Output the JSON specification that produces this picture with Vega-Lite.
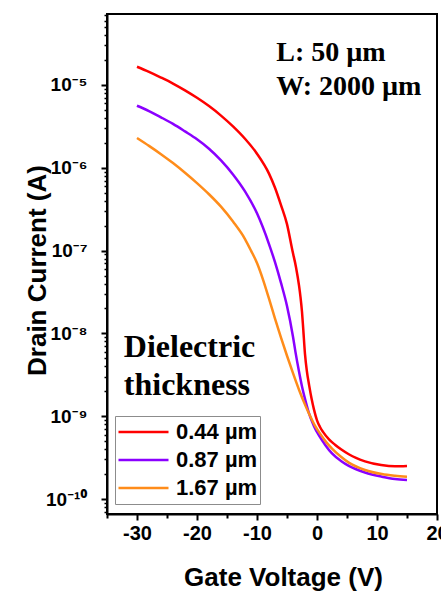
{
  "$schema": "https://vega.github.io/schema/vega-lite/v6.json",
  "width": 330,
  "height": 500,
  "autosize": "none",
  "padding": {"left": 107, "top": 14, "right": 4, "bottom": 79},
  "background": "white",
  "config": {
    "view": {"stroke": "black", "strokeWidth": 2},
    "axis": {
      "domainColor": "black", "domainWidth": 2, "tickColor": "black", "tickWidth": 2,
      "labelFont": "Liberation Sans, Noto Sans, DejaVu Sans", "labelFontWeight": "bold", "labelFontSize": 19, "labelColor": "black",
      "titleFont": "Liberation Sans", "titleFontWeight": "bold", "titleFontSize": 26, "titleColor": "black",
      "grid": false, "labelOverlap": false, "labelFlush": false, "labelBound": false
    }
  },
  "resolve": {"axis": {"x": "independent", "y": "independent"}},
  "layer": [
    {
      "data": {"values": [
        {"t": "0.44 µm", "V": -30, "I": 1.66e-5}, {"t": "0.44 µm", "V": -28, "I": 1.44e-5}, {"t": "0.44 µm", "V": -26, "I": 1.23e-5},
        {"t": "0.44 µm", "V": -24, "I": 1.04e-5}, {"t": "0.44 µm", "V": -22, "I": 8.61e-6}, {"t": "0.44 µm", "V": -20, "I": 7.00e-6},
        {"t": "0.44 µm", "V": -18, "I": 5.56e-6}, {"t": "0.44 µm", "V": -16, "I": 4.27e-6}, {"t": "0.44 µm", "V": -14, "I": 3.16e-6},
        {"t": "0.44 µm", "V": -12, "I": 2.24e-6}, {"t": "0.44 µm", "V": -10, "I": 1.48e-6}, {"t": "0.44 µm", "V": -8, "I": 8.51e-7},
        {"t": "0.44 µm", "V": -7, "I": 5.75e-7}, {"t": "0.44 µm", "V": -6, "I": 3.55e-7}, {"t": "0.44 µm", "V": -5, "I": 2.09e-7},
        {"t": "0.44 µm", "V": -4.1, "I": 1.0e-7}, {"t": "0.44 µm", "V": -3.5, "I": 6.31e-8}, {"t": "0.44 µm", "V": -3.0, "I": 3.80e-8},
        {"t": "0.44 µm", "V": -2.75, "I": 2.75e-8}, {"t": "0.44 µm", "V": -2.5, "I": 1.82e-8}, {"t": "0.44 µm", "V": -2.3, "I": 1.15e-8},
        {"t": "0.44 µm", "V": -2.0, "I": 5.62e-9}, {"t": "0.44 µm", "V": -1.7, "I": 3.55e-9}, {"t": "0.44 µm", "V": -1.3, "I": 2.34e-9},
        {"t": "0.44 µm", "V": -0.9, "I": 1.62e-9}, {"t": "0.44 µm", "V": -0.5, "I": 1.20e-9}, {"t": "0.44 µm", "V": 0, "I": 8.91e-10},
        {"t": "0.44 µm", "V": 0.5, "I": 7.41e-10}, {"t": "0.44 µm", "V": 1, "I": 6.46e-10}, {"t": "0.44 µm", "V": 2, "I": 5.25e-10},
        {"t": "0.44 µm", "V": 3, "I": 4.52e-10}, {"t": "0.44 µm", "V": 4, "I": 3.98e-10}, {"t": "0.44 µm", "V": 5.3, "I": 3.47e-10},
        {"t": "0.44 µm", "V": 6.5, "I": 3.13e-10}, {"t": "0.44 µm", "V": 8, "I": 2.85e-10}, {"t": "0.44 µm", "V": 10.7, "I": 2.57e-10},
        {"t": "0.44 µm", "V": 13, "I": 2.48e-10}, {"t": "0.44 µm", "V": 15, "I": 2.51e-10},

        {"t": "0.87 µm", "V": -30, "I": 5.62e-6}, {"t": "0.87 µm", "V": -28, "I": 4.84e-6}, {"t": "0.87 µm", "V": -26, "I": 4.07e-6},
        {"t": "0.87 µm", "V": -24, "I": 3.39e-6}, {"t": "0.87 µm", "V": -22, "I": 2.75e-6}, {"t": "0.87 µm", "V": -20, "I": 2.21e-6},
        {"t": "0.87 µm", "V": -18, "I": 1.70e-6}, {"t": "0.87 µm", "V": -16, "I": 1.23e-6}, {"t": "0.87 µm", "V": -14, "I": 8.32e-7},
        {"t": "0.87 µm", "V": -12, "I": 5.19e-7}, {"t": "0.87 µm", "V": -10, "I": 2.82e-7}, {"t": "0.87 µm", "V": -8, "I": 1.20e-7},
        {"t": "0.87 µm", "V": -7, "I": 7.24e-8}, {"t": "0.87 µm", "V": -6, "I": 4.07e-8}, {"t": "0.87 µm", "V": -5, "I": 2.14e-8},
        {"t": "0.87 µm", "V": -4, "I": 9.12e-9}, {"t": "0.87 µm", "V": -3.6, "I": 6.03e-9}, {"t": "0.87 µm", "V": -3, "I": 3.47e-9},
        {"t": "0.87 µm", "V": -2.5, "I": 2.29e-9}, {"t": "0.87 µm", "V": -2, "I": 1.62e-9}, {"t": "0.87 µm", "V": -1.4, "I": 1.12e-9},
        {"t": "0.87 µm", "V": -0.5, "I": 7.59e-10}, {"t": "0.87 µm", "V": 0.3, "I": 5.89e-10}, {"t": "0.87 µm", "V": 1.4, "I": 4.47e-10},
        {"t": "0.87 µm", "V": 2.5, "I": 3.55e-10}, {"t": "0.87 µm", "V": 4, "I": 2.88e-10}, {"t": "0.87 µm", "V": 5.3, "I": 2.51e-10},
        {"t": "0.87 µm", "V": 8, "I": 2.09e-10}, {"t": "0.87 µm", "V": 10.8, "I": 1.86e-10}, {"t": "0.87 µm", "V": 13, "I": 1.74e-10},
        {"t": "0.87 µm", "V": 15, "I": 1.70e-10},

        {"t": "1.67 µm", "V": -30, "I": 2.29e-6}, {"t": "1.67 µm", "V": -28, "I": 1.84e-6}, {"t": "1.67 µm", "V": -26, "I": 1.46e-6},
        {"t": "1.67 µm", "V": -24, "I": 1.14e-6}, {"t": "1.67 µm", "V": -22, "I": 8.71e-7}, {"t": "1.67 µm", "V": -20, "I": 6.53e-7},
        {"t": "1.67 µm", "V": -18, "I": 4.79e-7}, {"t": "1.67 µm", "V": -16, "I": 3.39e-7}, {"t": "1.67 µm", "V": -14, "I": 2.24e-7},
        {"t": "1.67 µm", "V": -12, "I": 1.38e-7}, {"t": "1.67 µm", "V": -11, "I": 1.00e-7}, {"t": "1.67 µm", "V": -10, "I": 7.08e-8},
        {"t": "1.67 µm", "V": -9, "I": 4.47e-8}, {"t": "1.67 µm", "V": -8, "I": 2.63e-8}, {"t": "1.67 µm", "V": -7, "I": 1.51e-8},
        {"t": "1.67 µm", "V": -6, "I": 8.91e-9}, {"t": "1.67 µm", "V": -5, "I": 5.37e-9}, {"t": "1.67 µm", "V": -4, "I": 3.31e-9},
        {"t": "1.67 µm", "V": -3, "I": 2.09e-9}, {"t": "1.67 µm", "V": -2, "I": 1.38e-9}, {"t": "1.67 µm", "V": -1.4, "I": 1.10e-9},
        {"t": "1.67 µm", "V": -0.3, "I": 7.59e-10}, {"t": "1.67 µm", "V": 0.6, "I": 6.03e-10}, {"t": "1.67 µm", "V": 1.5, "I": 4.90e-10},
        {"t": "1.67 µm", "V": 2.5, "I": 4.07e-10}, {"t": "1.67 µm", "V": 4, "I": 3.24e-10}, {"t": "1.67 µm", "V": 5.3, "I": 2.75e-10},
        {"t": "1.67 µm", "V": 8, "I": 2.24e-10}, {"t": "1.67 µm", "V": 10.8, "I": 2.00e-10}, {"t": "1.67 µm", "V": 13, "I": 1.91e-10},
        {"t": "1.67 µm", "V": 15, "I": 1.86e-10}
      ]},
      "mark": {"type": "line", "strokeWidth": 2.5, "interpolate": "monotone"},
      "encoding": {
        "x": {
          "field": "V", "type": "quantitative",
          "scale": {"domain": [-35, 20], "nice": false, "zero": false},
          "axis": {
            "orient": "bottom",
            "values": [-30, -20, -10, 0, 10, 20],
            "labelExpr": "'' + datum.value",
            "labelFontSize": 20,
            "tickSize": 6,
            "labelPadding": 3,
            "title": "Gate Voltage (V)",
            "titleX": 176, "titleY": 71, "titleBaseline": "alphabetic", "titleAlign": "center"
          }
        },
        "y": {
          "field": "I", "type": "quantitative",
          "scale": {"type": "log", "domain": [6.59e-11, 7.2e-5], "nice": false},
          "axis": {
            "orient": "left",
            "values": [1e-10, 1e-9, 1e-8, 1e-7, 1e-6, 1e-5],
            "labelExpr": "datum.value < 5e-10 ? '10⁻¹⁰' : datum.value < 5e-9 ? '10⁻⁹' : datum.value < 5e-8 ? '10⁻⁸' : datum.value < 5e-7 ? '10⁻⁷' : datum.value < 5e-6 ? '10⁻⁶' : '10⁻⁵'",
            "tickSize": 6,
            "labelPadding": 14,
            "title": "Drain Current (A)",
            "titleAngle": -90, "titleX": -70, "titleY": 256, "titleAlign": "center", "titleBaseline": "middle"
          }
        },
        "color": {
          "field": "t", "type": "nominal",
          "scale": {"domain": ["0.44 µm", "0.87 µm", "1.67 µm"], "range": ["#ff0000", "#8a00ff", "#ff8c1a"]},
          "legend": {
            "orient": "none", "legendX": 8, "legendY": 402, "title": null,
            "symbolType": "stroke", "symbolSize": 2500, "symbolStrokeWidth": 2.5, "clipHeight": 28,
            "labelFontSize": 22, "labelFont": "Liberation Sans", "labelFontWeight": "bold", "labelColor": "black",
            "labelOffset": 6, "padding": 2, "rowPadding": 0, "strokeColor": "#8c8c8c", "fillColor": "white"
          }
        }
      }
    },
    {
      "data": {"values": [
        {"label": "L: 50 µm", "V": -6.8, "I": 1.95e-5},
        {"label": "W: 2000 µm", "V": -6.8, "I": 7.57e-6}
      ]},
      "mark": {"type": "text", "font": "Liberation Serif", "fontWeight": "bold", "fontSize": 28, "align": "left", "baseline": "alphabetic", "color": "black"},
      "encoding": {
        "x": {
          "field": "V", "type": "quantitative",
          "axis": {"orient": "bottom", "values": [-35, -25, -15, -5, 5, 15], "labels": false, "domain": false, "title": null, "tickSize": 4, "tickWidth": 2}
        },
        "y": {
          "field": "I", "type": "quantitative",
          "axis": {
            "orient": "left",
            "values": [7e-11, 8e-11, 9e-11,
              2e-10, 3e-10, 4e-10, 5e-10, 6e-10, 7e-10, 8e-10, 9e-10,
              2e-9, 3e-9, 4e-9, 5e-9, 6e-9, 7e-9, 8e-9, 9e-9,
              2e-8, 3e-8, 4e-8, 5e-8, 6e-8, 7e-8, 8e-8, 9e-8,
              2e-7, 3e-7, 4e-7, 5e-7, 6e-7, 7e-7, 8e-7, 9e-7,
              2e-6, 3e-6, 4e-6, 5e-6, 6e-6, 7e-6, 8e-6, 9e-6,
              2e-5, 3e-5, 4e-5, 5e-5, 6e-5, 7e-5],
            "labels": false, "domain": false, "title": null, "tickSize": 3, "tickWidth": 1.5
          }
        },
        "text": {"field": "label"}
      }
    },
    {
      "data": {"values": [
        {"label": "Dielectric", "V": -32.2, "I": 5.24e-9},
        {"label": "thickness", "V": -32.2, "I": 1.80e-9}
      ]},
      "mark": {"type": "text", "font": "Liberation Serif", "fontWeight": "bold", "fontSize": 32, "align": "left", "baseline": "alphabetic", "color": "black"},
      "encoding": {
        "x": {"field": "V", "type": "quantitative", "axis": null},
        "y": {"field": "I", "type": "quantitative", "axis": null},
        "text": {"field": "label"}
      }
    }
  ]
}
